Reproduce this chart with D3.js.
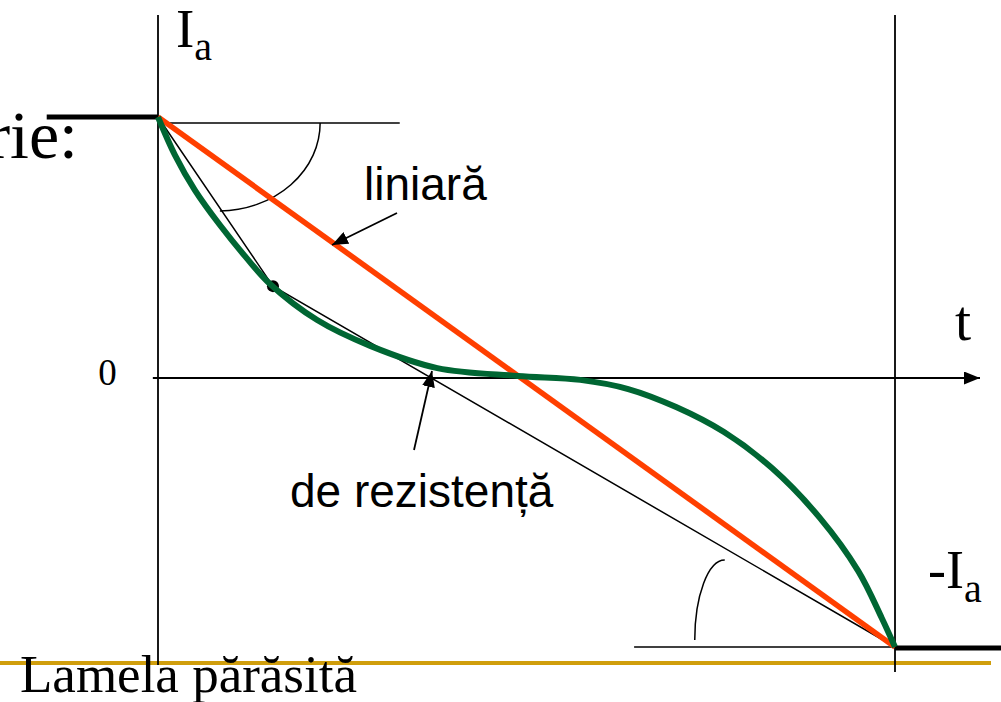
<!DOCTYPE html>
<html>
<head>
<meta charset="utf-8">
<script src="https://cdn.jsdelivr.net/npm/d3@7"></script>
<style>
  body { margin: 0; background: #fff; }
  svg { display: block; }
  .serif { font-family: "Liberation Serif", "Times New Roman", serif; fill: #000; }
  .sans { font-family: "Liberation Sans", Arial, sans-serif; fill: #000; }
</style>
</head>
<body>
<svg id="chart" width="1001" height="702"></svg>
<script>
// time is fraction of the commutation period T, current is fraction of Ia
const tGreen = [0, 0.023, 0.050, 0.084, 0.118, 0.152, 0.216, 0.288, 0.379, 0.488, 0.573, 0.638, 0.703, 0.768, 0.833, 0.898, 0.950, 0.982, 1];
const iGreen = [1, 0.854, 0.720, 0.586, 0.467, 0.360, 0.222, 0.123, 0.038, 0.008, -0.007, -0.041, -0.108, -0.201, -0.335, -0.520, -0.717, -0.892, -1];

const tRed = [0, 1];
const iRed = [1, -1];

// tangent lines (start of commutation and from the marked point)
const tTangent = [0, 0.156, 1];
const iTangent = [1, 0.352, -1];

const markT = 0.156, markI = 0.352;

const labels = { ia: "I", sub: "a", negIa: "-I", t: "t", zero: "0",
  linear: "liniară", resist: "de rezistență", left: "rie:", bottom: "Lamela părăsită" };

const svg = d3.select("#chart");

const x = d3.scaleLinear().domain([0, 1]).range([158, 895]);
const y = d3.scaleLinear().domain([-1, 0, 1]).range([647, 378, 117]);

const defs = svg.append("defs");
defs.append("marker")
    .attr("id", "head")
    .attr("markerUnits", "userSpaceOnUse")
    .attr("viewBox", "0 0 16 13")
    .attr("refX", 16).attr("refY", 6.5)
    .attr("markerWidth", 16).attr("markerHeight", 13)
    .attr("orient", "auto")
  .append("path")
    .attr("d", "M0,0 L16,6.5 L0,13 Z")
    .attr("fill", "#000");

// golden footer rule
svg.append("line")
    .attr("x1", 0).attr("x2", 991).attr("y1", 663).attr("y2", 663)
    .attr("stroke", "#d09e0c").attr("stroke-width", 4);

// vertical axes
svg.append("line")
    .attr("x1", x(0)).attr("x2", x(0)).attr("y1", 15).attr("y2", 665)
    .attr("stroke", "#000").attr("stroke-width", 1.8);
svg.append("line")
    .attr("x1", x(1)).attr("x2", x(1)).attr("y1", 15).attr("y2", 672)
    .attr("stroke", "#000").attr("stroke-width", 1.8);

// time axis with arrow
svg.append("line")
    .attr("x1", x(-0.007)).attr("x2", 980).attr("y1", y(0)).attr("y2", y(0))
    .attr("stroke", "#000").attr("stroke-width", 1.8)
    .attr("marker-end", "url(#head)");

// thick current levels before and after commutation
svg.append("line")
    .attr("x1", x(-0.151)).attr("x2", x(0)).attr("y1", y(1)).attr("y2", y(1))
    .attr("stroke", "#000").attr("stroke-width", 5);
svg.append("line")
    .attr("x1", x(1)).attr("x2", 1001).attr("y1", y(-1) + 1).attr("y2", y(-1) + 1)
    .attr("stroke", "#000").attr("stroke-width", 5);

// thin reference lines for the angles
svg.append("line")
    .attr("x1", x(0)).attr("x2", x(0.328)).attr("y1", y(0.977)).attr("y2", y(0.977))
    .attr("stroke", "#000").attr("stroke-width", 1.5);
svg.append("line")
    .attr("x1", x(0.646)).attr("x2", x(1)).attr("y1", y(-1)).attr("y2", y(-1))
    .attr("stroke", "#000").attr("stroke-width", 1.5);

// angle arcs
svg.append("path")
    .attr("d", `M${x(0.22)},${y(0.977)} A102,88 0 0 1 ${x(0.084)},${y(0.977) + 88}`)
    .attr("fill", "none").attr("stroke", "#000").attr("stroke-width", 1.5);
svg.append("path")
    .attr("d", `M${x(0.769)},560 A30,80 0 0 0 ${x(0.769) - 30},640`)
    .attr("fill", "none").attr("stroke", "#000").attr("stroke-width", 1.5);

// tangent lines
const line = d3.line().x(d => x(d[0])).y(d => y(d[1]));
svg.append("path")
    .datum(d3.zip(tTangent, iTangent))
    .attr("d", line)
    .attr("fill", "none").attr("stroke", "#000").attr("stroke-width", 1.5);

svg.append("circle")
    .attr("cx", x(markT)).attr("cy", y(markI)).attr("r", 6)
    .attr("fill", "#000");

// linear commutation
svg.append("path")
    .datum(d3.zip(tRed, iRed))
    .attr("d", line)
    .attr("fill", "none").attr("stroke", "#ff3f00").attr("stroke-width", 5.5);

// resistive commutation
svg.append("path")
    .datum(d3.zip(tGreen, iGreen))
    .attr("d", line.curve(d3.curveCatmullRom.alpha(0.5)))
    .attr("fill", "none").attr("stroke", "#006633").attr("stroke-width", 6);

// pointer arrows
svg.append("line")
    .attr("x1", 397).attr("y1", 213).attr("x2", 332).attr("y2", 245)
    .attr("stroke", "#000").attr("stroke-width", 1.8)
    .attr("marker-end", "url(#head)");
svg.append("line")
    .attr("x1", 414).attr("y1", 450).attr("x2", 432).attr("y2", 371)
    .attr("stroke", "#000").attr("stroke-width", 1.8)
    .attr("marker-end", "url(#head)");

// texts
const ia = svg.append("text").attr("class", "serif").attr("x", 176).attr("y", 47)
    .style("font-size", "55px").text(labels.ia);
ia.append("tspan").attr("dy", 13).style("font-size", "40px").text(labels.sub);

const nia = svg.append("text").attr("class", "serif").attr("x", 928).attr("y", 588)
    .style("font-size", "54px").text(labels.negIa);
nia.append("tspan").attr("dy", 14).style("font-size", "40px").text(labels.sub);

svg.append("text").attr("class", "serif").attr("x", 955).attr("y", 340)
    .style("font-size", "58px").text(labels.t);

svg.append("text").attr("class", "serif").attr("x", 107.5).attr("y", 385)
    .attr("text-anchor", "middle").style("font-size", "37px").text(labels.zero);

svg.append("text").attr("class", "serif").attr("x", 78).attr("y", 158)
    .attr("text-anchor", "end").style("font-size", "68px").text(labels.left);

svg.append("text").attr("class", "serif").attr("x", 20).attr("y", 692)
    .style("font-size", "53px").text(labels.bottom);

svg.append("text").attr("class", "sans").attr("x", 364).attr("y", 200)
    .style("font-size", "46px").text(labels.linear);

svg.append("text").attr("class", "sans").attr("x", 290).attr("y", 507)
    .style("font-size", "46px").text(labels.resist);
</script>
</body>
</html>
